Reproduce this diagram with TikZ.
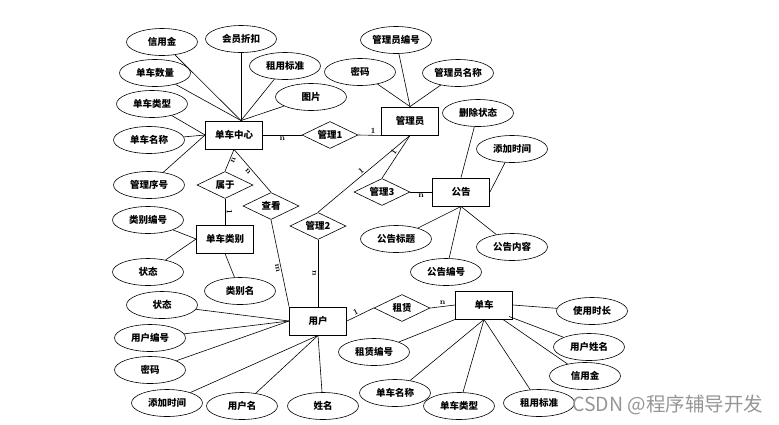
\documentclass[tikz,border=0pt]{standalone}
\usepackage{fontspec}
\newfontfamily\cjk{Noto Sans CJK SC}
\usetikzlibrary{shapes.geometric,calc}
\definecolor{mark}{RGB}{150,150,150}
\tikzset{
  lbl/.style={font=\cjk\bfseries\fontsize{9.5}{11}\selectfont},
  attr/.style={lbl,ellipse,draw,line width=0.6pt,minimum width=71pt,minimum height=27pt,inner sep=0pt},
  ent/.style={lbl,rectangle,draw,line width=0.9pt,minimum width=57pt,minimum height=28pt,inner sep=0pt},
  rel/.style={lbl,diamond,draw,line width=0.6pt,aspect=2.1,minimum width=56pt,minimum height=27pt,inner sep=0pt},
  card/.style={font=\bfseries\fontsize{8}{9}\selectfont,inner sep=1.5pt},
  link/.style={line width=0.6pt}
}

\begin{document}
\begin{tikzpicture}[x=1pt,y=-1pt]
\useasboundingbox (0,0) rectangle (779,424);
% entities
\node[ent] (dc)  at (234,135) {单车中心};
\node[ent] (gly) at (410,121) {管理员};
\node[ent] (gg)  at (461,192) {公告};
\node[ent] (lb)  at (225,239) {单车类别};
\node[ent] (yh)  at (318,321) {用户};
\node[ent] (dch) at (484,305) {单车};
% relations
\node[rel] (gl1) at (330,135) {管理1};
\node[rel] (sy)  at (225,185) {属于};
\node[rel] (ck)  at (271,206) {查看};
\node[rel] (gl2) at (318,226) {管理2};
\node[rel] (gl3) at (382,192) {管理3};
\node[rel] (zl)  at (402,308) {租赁};
% attributes of 单车中心
\node[attr] (a1) at (162,42)  {信用金};
\node[attr] (a2) at (241,39)  {会员折扣};
\node[attr] (a3) at (285,66)  {租用标准};
\node[attr] (a4) at (155,73)  {单车数量};
\node[attr] (a5) at (311,97)  {图片};
\node[attr] (a6) at (152,104) {单车类型};
\node[attr] (a7) at (149,140) {单车名称};
\node[attr] (a8) at (149,185) {管理序号};
\coordinate (dctop) at ($(dc.north)+(7,0)$);
\foreach \a in {a1,a2,a3,a4,a5}
  \draw[link] (\a) -- (dctop);
\foreach \a in {a6,a7,a8}
  \draw[link] (\a) -- (dc.west);
% attributes of 管理员
\node[attr] (b1) at (396,40) {管理员编号};
\node[attr] (b2) at (360,72) {密码};
\node[attr] (b3) at (458,73) {管理员名称};
\foreach \a in {b1,b2,b3}
  \draw[link] (\a) -- (gly.north);
% attributes of 公告
\node[attr] (c1) at (478,113) {删除状态};
\node[attr] (c2) at (512,149) {添加时间};
\node[attr] (c3) at (396,239) {公告标题};
\node[attr] (c4) at (446,272) {公告编号};
\node[attr] (c5) at (512,247) {公告内容};
\draw[link] (c1) -- (gg.north);
\draw[link] (c2) -- (gg.east);
\foreach \a in {c3,c4,c5}
  \draw[link] (\a) -- (gg.south);
% attributes of 单车类别
\node[attr] (d1) at (148,220) {类别编号};
\node[attr] (d2) at (148,272) {状态};
\node[attr] (d3) at (240,291) {类别名};
\foreach \a in {d1,d2}
  \draw[link] (\a) -- (lb.west);
\draw[link] (d3) -- (lb.south);
% attributes of 用户
\node[attr] (e1) at (162,305) {状态};
\node[attr] (e2) at (150,338) {用户编号};
\node[attr] (e3) at (150,370) {密码};
\node[attr] (e4) at (167,403) {添加时间};
\node[attr] (e5) at (242,406) {用户名};
\node[attr] (e6) at (323,406) {姓名};
\foreach \a in {e1,e2,e3}
  \draw[link] (\a) -- (yh.west);
\foreach \a in {e4,e5,e6}
  \draw[link] (\a) -- (yh.south);
% attributes of 单车
\node[attr] (f1) at (592,311) {使用时长};
\node[attr] (f2) at (589,347) {用户姓名};
\node[attr] (f3) at (585,376) {信用金};
\node[attr] (f4) at (374,352) {租赁编号};
\node[attr] (f5) at (395,393) {单车名称};
\node[attr] (f6) at (459,406) {单车类型};
\node[attr] (f7) at (539,403) {租用标准};
\draw[link] (f1) -- (dch.east);
\draw[link] (f2) -- ($(dch.south east)+(-4,-3)$);
\draw[link] (f3) -- ($(dch.south east)+(-10,0)$);
\draw[link] (f4) -- (dch.south west);
\foreach \a in {f5,f6,f7}
  \draw[link] (\a) -- (dch.south);
% relationships
\draw[link] (dc.east) -- node[card,pos=0.5,below] {n} (gl1.west);
\draw[link] (gl1.east) -- node[card,pos=0.65,sloped,above] {1} (gly.south west);
\draw[link] (dc.south) -- node[card,pos=0.45,sloped,below] {n} (sy.north);
\draw[link] (dc.south) -- node[card,pos=0.45,sloped,below] {n} (ck.north);
\draw[link] (sy.south) -- node[card,pos=0.5,sloped,above] {1} (lb.north);
\draw[link] (ck.south) -- node[card,pos=0.55,sloped,below] {m} (yh.north west);
\draw[link] (gly.south) -- node[card,pos=0.5,sloped,above] {1} (gl2.north);
\draw[link] (gly.south) -- node[card,pos=0.45,sloped,above] {1} (gl3.north);
\draw[link] (gl2.south) -- node[card,pos=0.5,sloped,below] {n} (yh.north);
\draw[link] (gl3.east) -- node[card,pos=0.5,below] {n} (gg.west);
\draw[link] (yh.east) -- node[card,pos=0.4,sloped,above] {1} (zl.west);
\draw[link] (zl.east) -- node[card,pos=0.5,above] {n} (dch.west);
% watermark
\node[font=\cjk\fontsize{19.5}{22}\selectfont,text=mark,anchor=west,inner sep=0pt] (wm) at (572,405) {CSDN @程序辅导开发};
\end{tikzpicture}
\end{document}
